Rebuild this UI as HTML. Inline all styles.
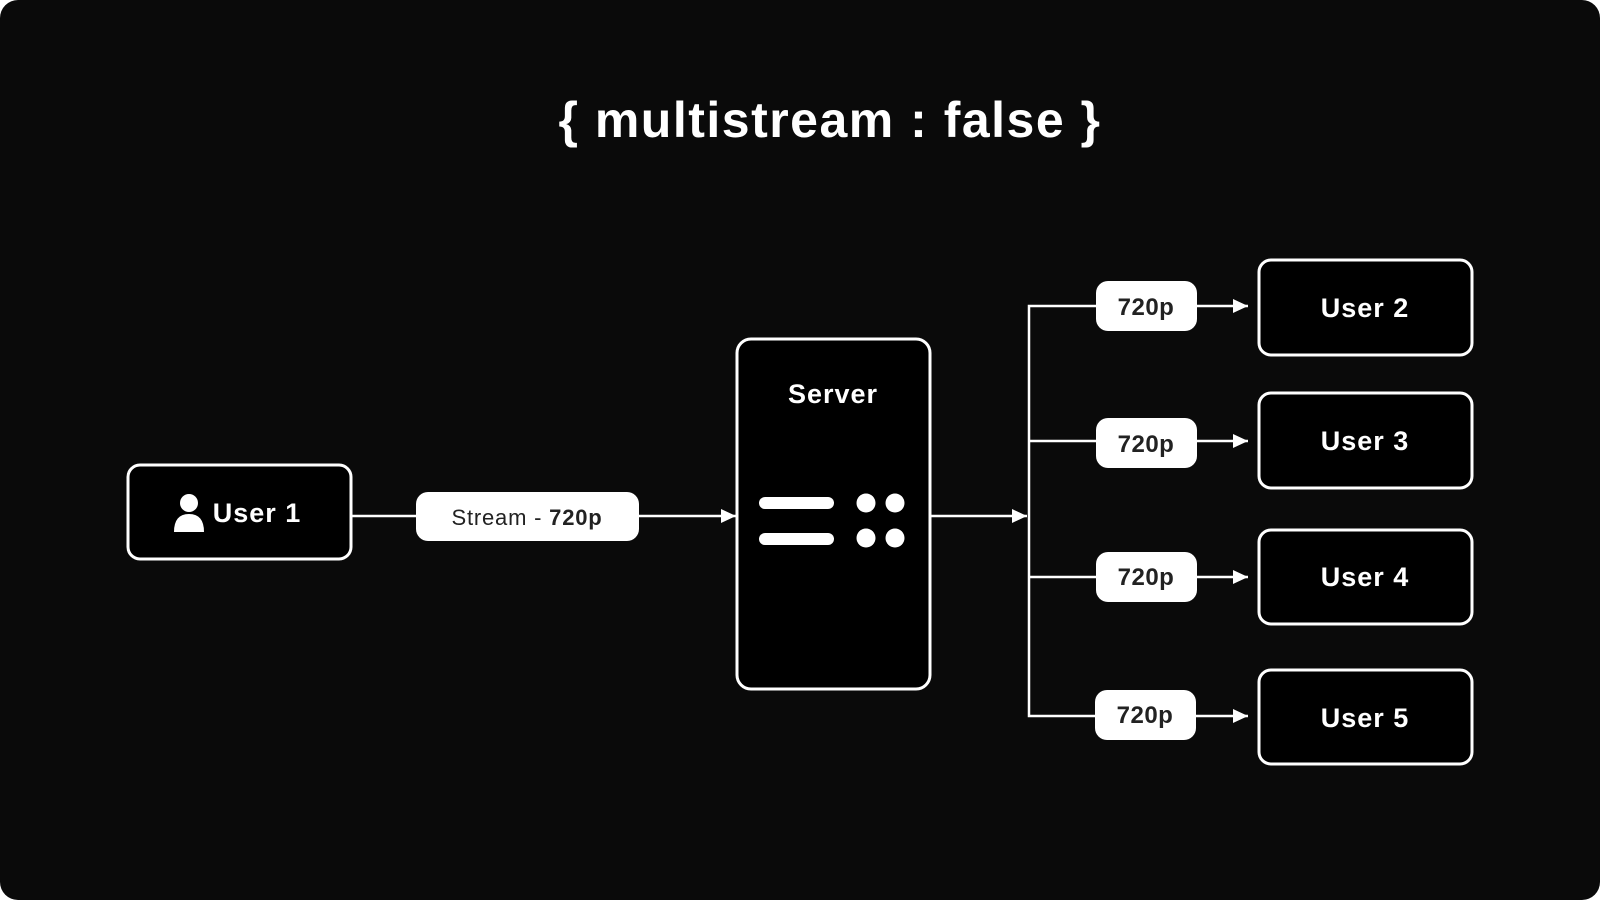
<!DOCTYPE html>
<html><head><meta charset="utf-8"><style>
html,body{margin:0;padding:0;background:#fff;width:1600px;height:900px;overflow:hidden}
.wrap{width:1600px;height:900px;background:#0a0a0a;border-radius:18px;overflow:hidden}
svg text{font-family:"Liberation Sans",sans-serif}
</style></head><body><div class="wrap">
<svg width="1600" height="900" viewBox="0 0 1600 900">
<defs><marker id="a" markerWidth="16" markerHeight="16" refX="15" refY="8" orient="auto" markerUnits="userSpaceOnUse"><path d="M0,1 L15,8 L0,15 Z" fill="#fff"/></marker></defs>
<text x="830" y="137" text-anchor="middle" fill="#fff" font-size="50" font-weight="bold" letter-spacing="1.5">{ multistream : false }</text>
<g fill="none" stroke="#fff" stroke-width="3">
<rect x="128" y="465" width="223" height="94" rx="12" fill="#000"/>
<rect x="737" y="339" width="193" height="350" rx="14" fill="#000"/>
<rect x="1259" y="260" width="213" height="95" rx="12" fill="#000"/>
<rect x="1259" y="393" width="213" height="95" rx="12" fill="#000"/>
<rect x="1259" y="530" width="213" height="94" rx="12" fill="#000"/>
<rect x="1259" y="670" width="213" height="94" rx="12" fill="#000"/>
</g>
<g stroke="#fff" stroke-width="2.5" fill="none">
<line x1="351" y1="516" x2="736" y2="516" marker-end="url(#a)"/>
<line x1="930" y1="516" x2="1027" y2="516" marker-end="url(#a)"/>
<polyline points="1097,306 1029,306 1029,716 1097,716"/>
<line x1="1029" y1="441" x2="1097" y2="441"/>
<line x1="1029" y1="577" x2="1097" y2="577"/>
<line x1="1196" y1="306" x2="1248" y2="306" marker-end="url(#a)"/>
<line x1="1196" y1="441" x2="1248" y2="441" marker-end="url(#a)"/>
<line x1="1196" y1="577" x2="1248" y2="577" marker-end="url(#a)"/>
<line x1="1196" y1="716" x2="1248" y2="716" marker-end="url(#a)"/>
</g>
<rect x="416" y="492" width="223" height="49" rx="12" fill="#fff"/>
<text x="527" y="525" text-anchor="middle" font-size="22" fill="#222" letter-spacing="0.8">Stream - <tspan font-weight="bold">720p</tspan></text>
<g fill="#fff">
<rect x="1096" y="281" width="101" height="50" rx="12"/>
<rect x="1096" y="418" width="101" height="50" rx="12"/>
<rect x="1096" y="552" width="101" height="50" rx="12"/>
<rect x="1095" y="690" width="101" height="50" rx="12"/>
</g>
<g font-size="24" font-weight="bold" fill="#222" text-anchor="middle" letter-spacing="0.5">
<text x="1146" y="315">720p</text>
<text x="1146" y="452">720p</text>
<text x="1146" y="585">720p</text>
<text x="1145" y="723">720p</text>
</g>
<g font-size="27" font-weight="bold" fill="#fff" text-anchor="middle" letter-spacing="1">
<text x="1365" y="317">User 2</text>
<text x="1365" y="450">User 3</text>
<text x="1365" y="586">User 4</text>
<text x="1365" y="727">User 5</text>
<text x="833" y="403">Server</text>
<text x="257" y="522">User 1</text>
</g>
<g fill="#fff">
<circle cx="189" cy="503" r="9"/>
<path d="M174,532 Q174,514 189,514 Q204,514 204,532 Z"/>
<rect x="759" y="497" width="75" height="12" rx="6"/>
<rect x="759" y="533" width="75" height="12" rx="6"/>
<circle cx="866" cy="503" r="9.5"/><circle cx="895" cy="503" r="9.5"/>
<circle cx="866" cy="538" r="9.5"/><circle cx="895" cy="538" r="9.5"/>
</g>
</svg></div></body></html>
